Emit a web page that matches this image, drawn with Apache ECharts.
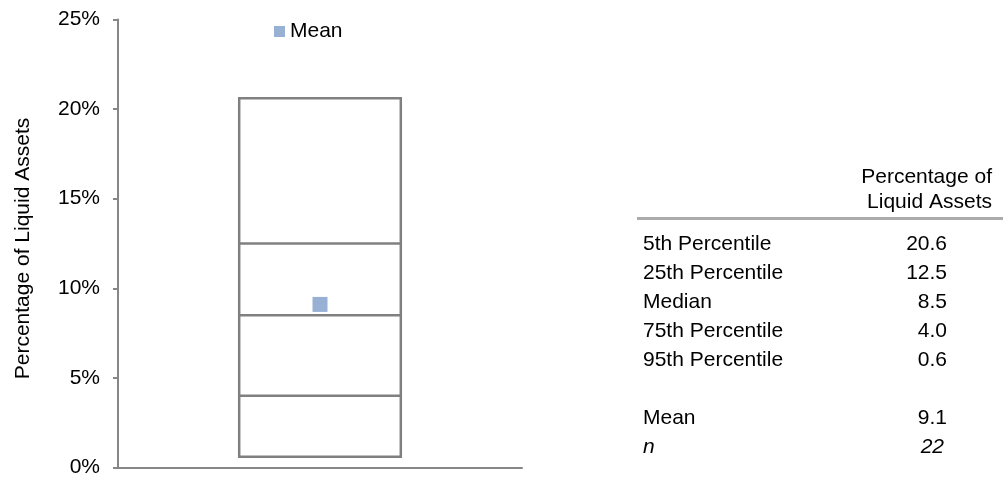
<!DOCTYPE html>
<html>
<head>
<meta charset="utf-8">
<script src="https://cdn.jsdelivr.net/npm/echarts@6/dist/echarts.min.js"></script>
<style>
  html, body { margin: 0; padding: 0; background: #fff; }
  #chart { width: 1003px; height: 478px; }
</style>
</head>
<body>
<div id="chart"></div>
<script>
// Distribution of the percentage of liquid assets
const categories = [''];
const percentileLabels = ['5th Percentile', '25th Percentile', 'Median', '75th Percentile', '95th Percentile'];
const percentileValues = [20.6, 12.5, 8.5, 4.0, 0.6];
const meanValue = 9.1;
const sampleSize = 22;
const yTicks = [0, 5, 10, 15, 20, 25];
const tableHeader = ['Percentage of', 'Liquid Assets'];

const FONT = '"Liberation Sans", Arial, sans-serif';
const FS = 21;
const chart = echarts.init(document.getElementById('chart'));

function txt(x, y, text, align, italic) {
  return {
    type: 'text', x: x, y: y, silent: true,
    style: {
      text: text,
      font: (italic ? 'italic ' : '') + FS + 'px ' + FONT,
      fill: '#000',
      align: align,
      verticalAlign: 'middle'
    }
  };
}

// Summary table on the right, built from the same arrays
const graphics = [
  txt(992, 177, tableHeader[0], 'right'),
  txt(992, 202, tableHeader[1], 'right'),
  { type: 'rect', silent: true, shape: { x: 637, y: 217, width: 366, height: 3 }, style: { fill: '#ababab' } }
];
const rowY = [244, 273, 302, 331, 360];
percentileLabels.forEach((l, i) => {
  graphics.push(txt(643, rowY[i], l, 'left'));
  graphics.push(txt(947, rowY[i], percentileValues[i].toFixed(1), 'right'));
});
graphics.push(txt(643, 418, 'Mean', 'left'));
graphics.push(txt(947, 418, meanValue.toFixed(1), 'right'));
graphics.push(txt(643, 447, 'n', 'left', true));
graphics.push(txt(944, 447, String(sampleSize), 'right', true));

chart.setOption({
  animation: false,
  textStyle: { fontFamily: FONT },
  grid: { left: 118, right: 481, top: 19.5, bottom: 7, containLabel: false },
  legend: {
    data: ['Mean'],
    left: 269, top: 16,
    icon: 'rect', itemWidth: 11, itemHeight: 11, itemGap: 3,
    textStyle: { fontSize: FS, color: '#000', fontFamily: FONT }
  },
  xAxis: {
    type: 'category',
    data: categories,
    axisLine: { lineStyle: { color: '#878787', width: 2 } },
    axisTick: { show: false },
    axisLabel: { show: false }
  },
  yAxis: {
    type: 'value',
    min: yTicks[0], max: yTicks[yTicks.length - 1], interval: 5,
    name: 'Percentage of Liquid Assets',
    nameLocation: 'middle',
    nameGap: 84,
    nameTextStyle: { fontSize: FS, color: '#000', fontFamily: FONT, padding: [0, 10, 0, 0] },
    axisLine: { show: true, lineStyle: { color: '#878787', width: 2 } },
    axisTick: { show: true, length: 5, lineStyle: { color: '#878787', width: 2 } },
    axisLabel: { formatter: '{value}%', fontSize: FS, color: '#000', margin: 18, fontFamily: FONT },
    splitLine: { show: false }
  },
  series: [
    {
      name: 'Percentiles',
      type: 'custom',
      data: [[0].concat(percentileValues)],
      renderItem: function (params, api) {
        const vals = percentileValues.map((_, i) => api.value(i + 1));
        const half = api.size([1, 0])[0] * 0.2;
        const cx = api.coord([api.value(0), 0])[0];
        const top = api.coord([0, Math.max(...vals)])[1];
        const bottom = api.coord([0, Math.min(...vals)])[1];
        const children = [{
          type: 'rect',
          shape: { x: cx - half, y: top, width: 2 * half, height: bottom - top },
          style: { fill: '#fff', stroke: '#808080', lineWidth: 2.5 }
        }];
        vals.slice(1, -1).forEach(v => {
          const y = api.coord([0, v])[1];
          children.push({
            type: 'line',
            shape: { x1: cx - half, y1: y, x2: cx + half, y2: y },
            style: { stroke: '#808080', lineWidth: 2.5 }
          });
        });
        return { type: 'group', children: children };
      },
      z: 1
    },
    {
      name: 'Mean',
      type: 'scatter',
      data: [[0, meanValue]],
      symbol: 'rect',
      symbolSize: 15,
      itemStyle: { color: '#809ccb' },
      z: 3
    }
  ],
  graphic: graphics
});
</script>
</body>
</html>
